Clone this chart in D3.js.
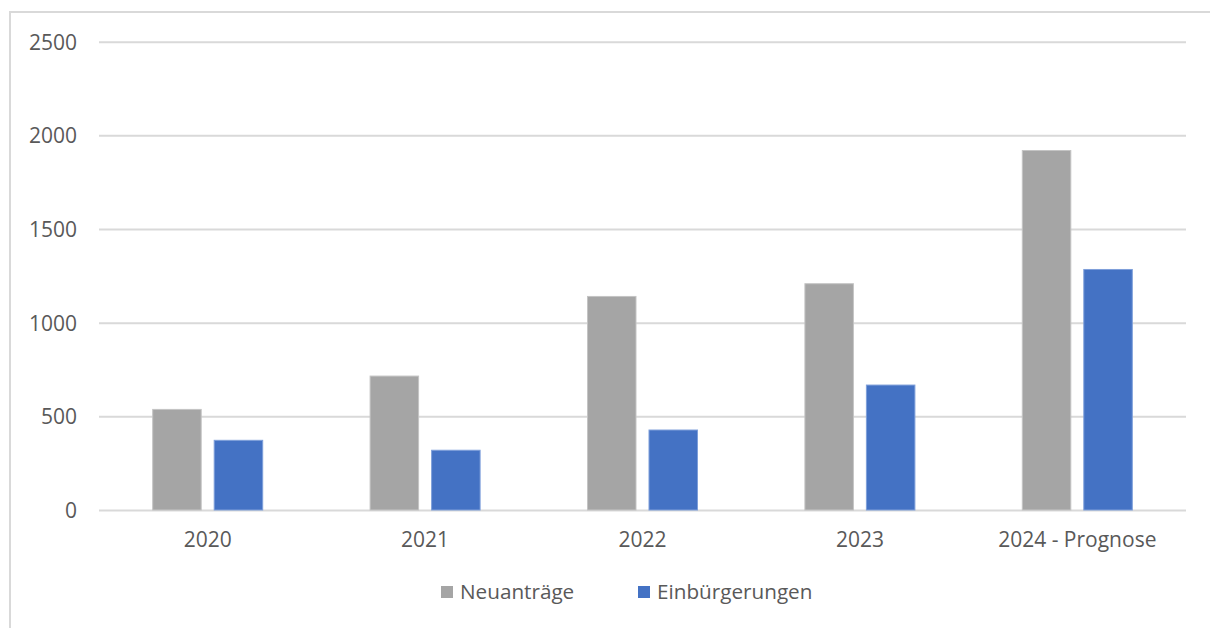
<!DOCTYPE html>
<html>
<head>
<meta charset="utf-8">
<script src="https://cdn.jsdelivr.net/npm/d3@7"></script>
<style>
  html, body { margin: 0; padding: 0; background: #fff; }
  svg { display: block; }
  text { font-family: "Open Sans", "Noto Sans", sans-serif; fill: #595959; }
</style>
</head>
<body>
<svg id="chart" width="1210" height="628"></svg>
<script>
// Categories, series and values
const years = ["2020", "2021", "2022", "2023", "2024 - Prognose"];
const seriesNames = ["Neuanträge", "Einbürgerungen"];
const neuantraege = [537, 715, 1140, 1208, 1919];
const einbuergerungen = [372, 319, 427, 667, 1284];
const yTicks = [0, 500, 1000, 1500, 2000, 2500];
const seriesColors = ["#A5A5A5", "#4472C4"];
const seriesStrokes = ["#C4C4C4", "#7E9FDA"];

const svg = d3.select("#chart");
const W = 1210, H = 628;

// Frame of the chart area
svg.append("path")
  .attr("d", `M10,${H} L10,12 L${W},12`)
  .attr("fill", "none")
  .attr("stroke", "#D9D9D9")
  .attr("stroke-width", 2);

const plot = { left: 99, right: 1186, top: 41.7, bottom: 510 };

const x0 = d3.scaleBand()
  .domain(years)
  .range([plot.left, plot.right])
  .padding(0);

const groupWidth = 2 * 48.5 + 13;
const x1 = d3.scaleBand()
  .domain(seriesNames)
  .range([(x0.bandwidth() - groupWidth) / 2, (x0.bandwidth() + groupWidth) / 2])
  .paddingInner(13 / 61.5)
  .paddingOuter(0);

const y = d3.scaleLinear()
  .domain([0, 2500])
  .range([plot.bottom, plot.top]);

// Gridlines and value axis labels
const yAxis = d3.axisLeft(y)
  .tickValues(yTicks)
  .tickSize(-(plot.right - plot.left))
  .tickPadding(22)
  .tickFormat(d3.format("d"));

const gy = svg.append("g")
  .attr("transform", `translate(${plot.left},0)`)
  .call(yAxis);
gy.select(".domain").remove();
gy.selectAll(".tick line")
  .attr("stroke", "#D9D9D9")
  .attr("stroke-width", 2);
gy.selectAll(".tick text")
  .attr("font-size", 21)
  .attr("fill", "#595959")
  .attr("dy", "0.35em");

// Bars
const rows = years.map((yr, i) => ({
  year: yr,
  values: [
    { key: seriesNames[0], value: neuantraege[i], idx: 0 },
    { key: seriesNames[1], value: einbuergerungen[i], idx: 1 }
  ]
}));

const groups = svg.append("g").selectAll("g")
  .data(rows)
  .join("g")
  .attr("transform", d => `translate(${x0(d.year)},0)`);

groups.selectAll("rect")
  .data(d => d.values)
  .join("rect")
  .attr("x", d => x1(d.key))
  .attr("y", d => y(d.value))
  .attr("width", x1.bandwidth())
  .attr("height", d => y(0) - y(d.value))
  .attr("fill", d => seriesColors[d.idx])
  .attr("stroke", d => seriesStrokes[d.idx])
  .attr("stroke-width", 1);

// Category axis labels
const xAxis = d3.axisBottom(x0).tickSize(0).tickPadding(22);
const gx = svg.append("g")
  .attr("transform", `translate(0,${plot.bottom})`)
  .call(xAxis);
gx.select(".domain").remove();
gx.selectAll(".tick text")
  .attr("font-size", 21)
  .attr("fill", "#595959");

// Legend
const legendItems = [
  { name: seriesNames[0], color: seriesColors[0], x: 441 },
  { name: seriesNames[1], color: seriesColors[1], x: 638 }
];
const legend = svg.append("g").selectAll("g")
  .data(legendItems)
  .join("g")
  .attr("transform", d => `translate(${d.x},586)`);
legend.append("rect")
  .attr("width", 12)
  .attr("height", 12)
  .attr("fill", d => d.color);
legend.append("text")
  .attr("x", 19)
  .attr("y", 6)
  .attr("dy", "0.35em")
  .attr("font-size", 20.7)
  .text(d => d.name);
</script>
</body>
</html>
